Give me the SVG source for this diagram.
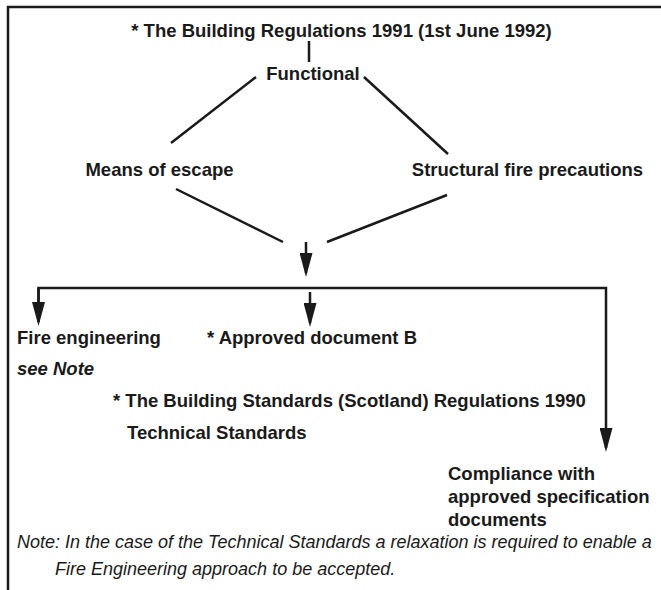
<svg xmlns="http://www.w3.org/2000/svg" width="661" height="590" viewBox="0 0 661 590">
<style>
text{font-family:"Liberation Sans",Arial,Helvetica,sans-serif;fill:#1a1a1a}
.b{font-weight:bold;font-size:18.5px}
.bi{font-weight:bold;font-style:italic;font-size:18.5px}
.n{font-style:italic;font-size:18px}
.ln{stroke:#1a1a1a;stroke-width:2.5;fill:none}
</style>
<defs>
<marker id="ah" viewBox="0 0 24 13" markerWidth="24" markerHeight="13" refX="20" refY="6.5" orient="auto" markerUnits="userSpaceOnUse">
<path d="M0,0 L24,6.5 L0,13 z" fill="#1a1a1a"/>
</marker>
</defs>
<rect width="661" height="590" fill="#fff"/>
<g id="frame">
<path class="ln" d="M661,7 H8 V590"/>
</g>
<g id="connectors">
<line class="ln" x1="309" y1="41" x2="309" y2="62"/>
<line class="ln" x1="256" y1="77" x2="171" y2="143"/>
<line class="ln" x1="364" y1="77" x2="448" y2="154"/>
<line class="ln" x1="176" y1="189" x2="283" y2="242"/>
<line class="ln" x1="447" y1="195" x2="327" y2="242"/>
<line class="ln" x1="306" y1="242" x2="306" y2="273" marker-end="url(#ah)"/>
<path class="ln" d="M38.5,322 V288 H606 V448" marker-end="url(#ah)"/>
<line class="ln" x1="38.5" y1="288" x2="38.5" y2="322" marker-end="url(#ah)"/>
<line class="ln" x1="310" y1="292" x2="310" y2="323" marker-end="url(#ah)"/>
</g>
<g id="title"><text class="b" x="341.5" y="37" text-anchor="middle">* The Building Regulations 1991 (1st June 1992)</text></g>
<g id="functional"><text class="b" x="313" y="80" text-anchor="middle">Functional</text></g>
<g id="means"><text class="b" x="159.5" y="176" text-anchor="middle">Means of escape</text></g>
<g id="structural"><text class="b" x="527.5" y="176" text-anchor="middle">Structural fire precautions</text></g>
<g id="fire-eng"><text class="b" x="17" y="344">Fire engineering</text><text class="bi" x="17" y="375">see Note</text></g>
<g id="approved"><text class="b" x="207" y="344">* Approved document B</text></g>
<g id="scotland"><text class="b" x="113" y="407">* The Building Standards (Scotland) Regulations 1990</text><text class="b" x="127" y="439">Technical Standards</text></g>
<g id="compliance"><text class="b" x="448" y="480">Compliance with</text><text class="b" x="448" y="503">approved specification</text><text class="b" x="448" y="526">documents</text></g>
<g id="note"><text class="n" x="17" y="548">Note: In the case of the Technical Standards a relaxation is required to enable a</text><text class="n" x="55" y="575">Fire Engineering approach to be accepted.</text></g>
</svg>
